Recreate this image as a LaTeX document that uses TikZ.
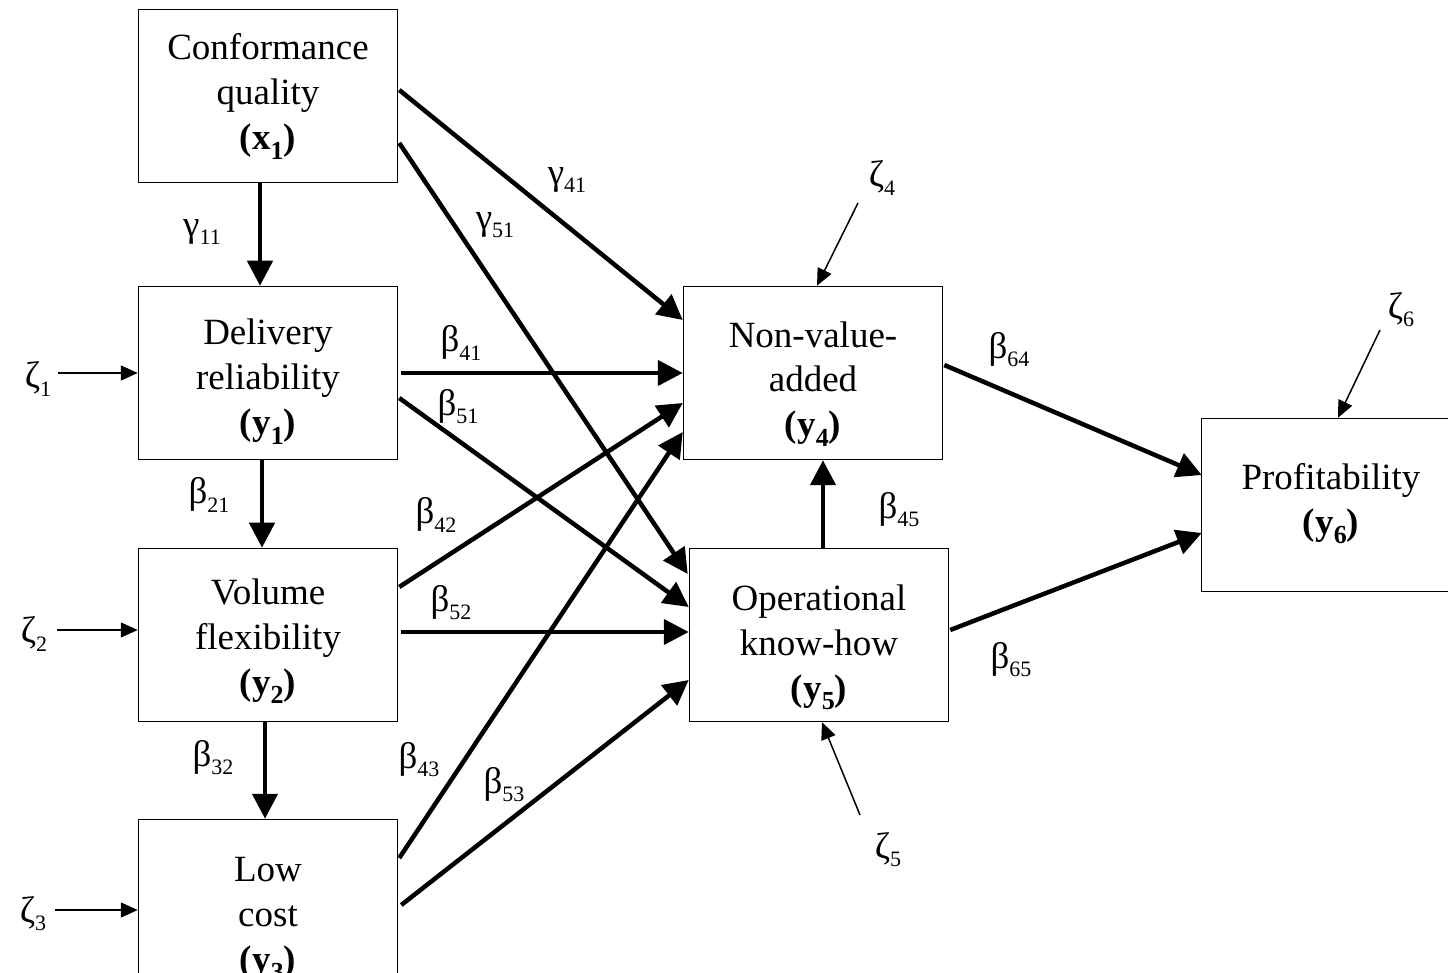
\documentclass[tikz,border=0pt]{standalone}
\usepackage{fontspec}
\setmainfont{Liberation Serif}
\usetikzlibrary{arrows.meta,calc}
\newcommand\lsub[1]{\raisebox{-0.22em}{\fontsize{11}{11}\selectfont #1}}
\newcommand\bsub[1]{\raisebox{-0.25em}{\fontsize{13}{13}\selectfont\bfseries #1}}
\newcommand\bt[2]{\raisebox{-#1}[\height][\depth]{\begin{tabular}{@{}c@{}}#2\end{tabular}}}
\begin{document}
\begin{tikzpicture}[x=0.5pt,y=-0.5pt,
  box/.style={draw, line width=0.75pt, minimum width=129.5pt, minimum height=86.5pt,
    align=center, inner sep=0pt, font=\fontsize{18.5}{22.5}\selectfont},
  thickarr/.style={line width=2.25pt, -{Triangle[length=12.5pt,width=12.5pt]}},
  thinarr/.style={line width=0.75pt, -{Triangle[length=8.5pt,width=7.5pt]}},
  lbl/.style={font=\fontsize{18.5}{22.5}\selectfont, inner sep=0pt}]
\useasboundingbox (0,0) rectangle (1448,973);

% boxes
\node[box] (x1) at (268,96) {\bt{0pt}{Conformance\\quality\\\textbf{(x\bsub{1})}}};
\node[box] (y1) at (268,373) {\bt{4pt}{Delivery\\reliability\\\textbf{(y\bsub{1})}}};
\node[box] (y2) at (268,635) {\bt{2.5pt}{Volume\\flexibility\\\textbf{(y\bsub{2})}}};
\node[box] (y3) at (268,906) {\bt{5.5pt}{Low\\cost\\\textbf{(y\bsub{3})}}};
\node[box] (y4) at (813,373) {\bt{5pt}{Non-value-\\added\\\textbf{(y\bsub{4})}}};
\node[box] (y5) at (819,635) {\bt{5.5pt}{Operational\\know-how\\\textbf{(y\bsub{5})}}};
\node[box] (y6) at (1331,505) {\bt{-1pt}{Profitability\\\textbf{(y\bsub{6})}}};

% vertical arrows on the left
\draw[thickarr] ($(x1.south)+(-8,0)$) -- ($(y1.north)+(-8,0)$);
\draw[thickarr] ($(y1.south)+(-6,0)$) -- ($(y2.north)+(-6,0)$);
\draw[thickarr] ($(y2.south)+(-3,0)$) -- ($(y3.north)+(-3,0)$);

% paths to y4 and y5
\draw[thickarr] ($(x1.east)+(1,-6)$) -- ($(y4.west)+(0,-53)$);
\draw[thickarr] ($(x1.east)+(1,47)$) -- ($(y5.west)+(-1,-61)$);
\draw[thickarr] ($(y1.east)+(3,0)$) -- (y4.west);
\draw[thickarr] ($(y1.east)+(1,25)$) -- ($(y5.west)+(0,-28)$);
\draw[thickarr] ($(y2.east)+(1,-48)$) -- ($(y4.west)+(0,30)$);
\draw[thickarr] ($(y2.east)+(3,-3)$) -- ($(y5.west)+(0,-3)$);
\draw[thickarr] ($(y3.east)+(1,-48)$) -- ($(y4.west)+(0,59)$);
\draw[thickarr] ($(y3.east)+(3,-1)$) -- ($(y5.west)+(0,45)$);
\draw[thickarr] ($(y5.north)+(4,0)$) -- ($(y4.south)+(10,0)$);
\draw[thickarr] ($(y4.east)+(1,-8)$) -- ($(y6.west)+(1,-30)$);
\draw[thickarr] ($(y5.east)+(1,-5)$) -- ($(y6.west)+(1,28)$);

% disturbances
\node[lbl] (z1) at (38,379) {ζ\lsub{1}};
\node[lbl] (z2) at (34,634) {ζ\lsub{2}};
\node[lbl] (z3) at (33,914) {ζ\lsub{3}};
\node[lbl] (z4) at (882,178) {ζ\lsub{4}};
\node[lbl] (z5) at (888,850) {ζ\lsub{5}};
\node[lbl] (z6) at (1401,310) {ζ\lsub{6}};
\coordinate (z1e) at (58,373);
\coordinate (z2e) at (57,630);
\coordinate (z3e) at (55,910);
\coordinate (z4e) at (858,203);
\coordinate (z5e) at (860,815);
\coordinate (z6e) at (1380,330);
\draw[thinarr] (z1e) -- (z1e -| y1.west);
\draw[thinarr] (z2e) -- (z2e -| y2.west);
\draw[thinarr] (z3e) -- (z3e -| y3.west);
\draw[thinarr] (z4e) -- ($(y4.north)+(4,0)$);
\draw[thinarr] (z5e) -- ($(y5.south)+(3,0)$);
\draw[thinarr] (z6e) -- ($(y6.north)+(7,0)$);

% coefficient labels
\node[lbl] (g11) at (202,232) {γ\lsub{11}};
\node[lbl] (g41) at (567,180) {γ\lsub{41}};
\node[lbl] (g51) at (495,225) {γ\lsub{51}};
\node[lbl] (b41) at (461,343) {β\lsub{41}};
\node[lbl] (b51) at (458,407) {β\lsub{51}};
\node[lbl] (b21) at (209,495) {β\lsub{21}};
\node[lbl] (b42) at (436,515) {β\lsub{42}};
\node[lbl] (b52) at (451,603) {β\lsub{52}};
\node[lbl] (b32) at (213,758) {β\lsub{32}};
\node[lbl] (b43) at (419,760) {β\lsub{43}};
\node[lbl] (b53) at (504,785) {β\lsub{53}};
\node[lbl] (b45) at (899,510) {β\lsub{45}};
\node[lbl] (b64) at (1009,350) {β\lsub{64}};
\node[lbl] (b65) at (1011,660) {β\lsub{65}};
\end{tikzpicture}
\end{document}
